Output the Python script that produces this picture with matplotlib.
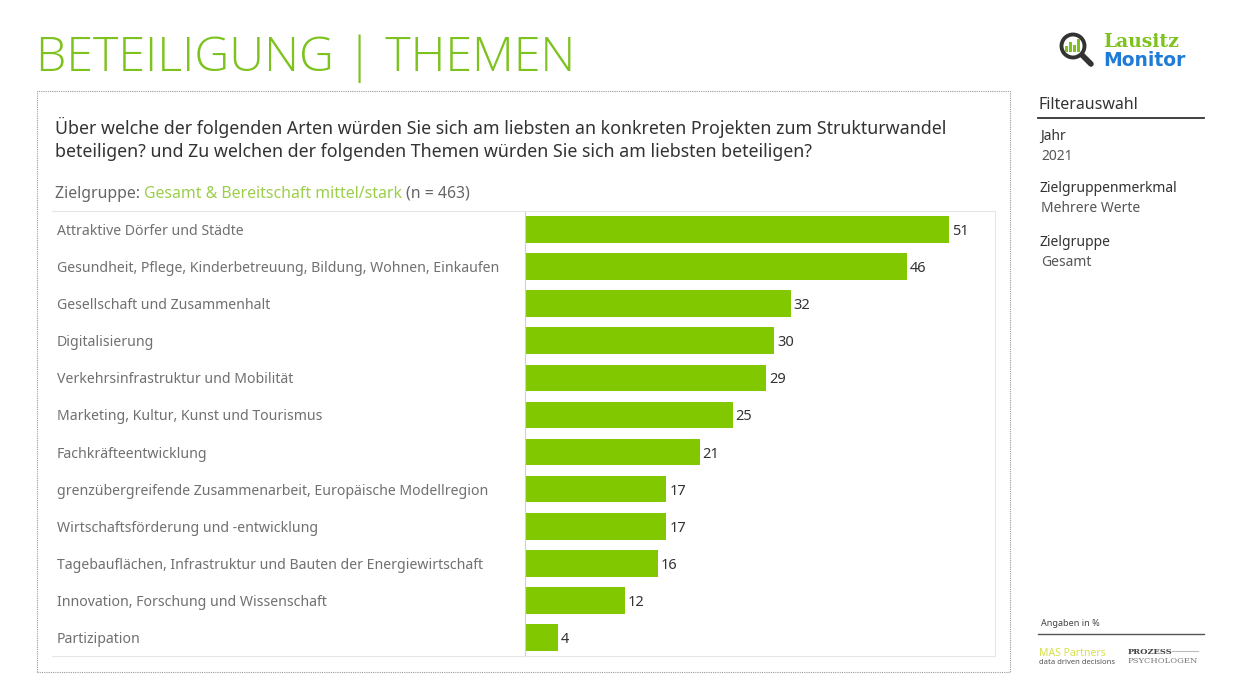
import matplotlib
matplotlib.use("Agg")
import matplotlib.pyplot as plt
from matplotlib.patches import Rectangle, Ellipse
from matplotlib.lines import Line2D

categories = [
    "Attraktive Dörfer und Städte",
    "Gesundheit, Pflege, Kinderbetreuung, Bildung, Wohnen, Einkaufen",
    "Gesellschaft und Zusammenhalt",
    "Digitalisierung",
    "Verkehrsinfrastruktur und Mobilität",
    "Marketing, Kultur, Kunst und Tourismus",
    "Fachkräfteentwicklung",
    "grenzübergreifende Zusammenarbeit, Europäische Modellregion",
    "Wirtschaftsförderung und -entwicklung",
    "Tagebauflächen, Infrastruktur und Bauten der Energiewirtschaft",
    "Innovation, Forschung und Wissenschaft",
    "Partizipation",
]
values = [51, 46, 32, 30, 29, 25, 21, 17, 17, 16, 12, 4]

GREEN = "#82C800"
TITLE_GREEN = "#7DC21E"
FONT = "Noto Sans"

W, H = 1243, 681
fig = plt.figure(figsize=(W / 100, H / 100), dpi=100)
fig.patch.set_facecolor("white")

def fx(px):
    return px / W

def fy(py):
    return 1 - py / H

# Title
fig.text(fx(36), fy(53), "BETEILIGUNG | THEMEN", color=TITLE_GREEN, fontsize=34.8,
         family="Open Sans", fontweight="light", va="center_baseline", ha="left")

# Dashed outer box
fig.add_artist(Rectangle((fx(37), fy(672)), fx(1010) - fx(37), fy(91) - fy(672),
                         transform=fig.transFigure, fill=False, edgecolor="#9a9a9a",
                         linestyle=(0, (1, 1)), linewidth=0.8))

# Question text
fig.text(fx(55), fy(125), "Über welche der folgenden Arten würden Sie sich am liebsten an konkreten Projekten zum Strukturwandel",
         fontsize=12.8, color="#333333", family=FONT, va="center_baseline")
fig.text(fx(55), fy(150), "beteiligen? und Zu welchen der folgenden Themen würden Sie sich am liebsten beteiligen?",
         fontsize=12.8, color="#333333", family=FONT, va="center_baseline")

# Zielgruppe line
t1 = fig.text(fx(55), fy(192), "Zielgruppe: ", fontsize=11.4, color="#666666", family=FONT, va="center_baseline")
fig.canvas.draw()
r = fig.canvas.get_renderer()
bb = t1.get_window_extent(r)
t2 = fig.text(bb.x1 / W, fy(192), "Gesamt & Bereitschaft mittel/stark", fontsize=11.4, color="#9BCF4A",
              family=FONT, va="center_baseline")
bb2 = t2.get_window_extent(r)
fig.text(bb2.x1 / W + 0.003, fy(192), "(n = 463)", fontsize=11.4, color="#666666", family=FONT,
         va="center_baseline")

# Axes
ax_left, ax_right, ax_top, ax_bot = 525, 995, 211, 656
ax = fig.add_axes([fx(ax_left), fy(ax_bot), fx(ax_right) - fx(ax_left), fy(ax_top) - fy(ax_bot)])
y = list(range(len(categories)))
ax.barh(y, values, height=0.72, color=GREEN)
ax.set_ylim(len(categories) - 0.5, -0.5)
ax.set_xlim(0, 56.55)
ax.set_xticks([])
ax.set_yticks([])
for s in ["top", "right", "bottom"]:
    ax.spines[s].set_color("#e6e6e6")
    ax.spines[s].set_linewidth(0.8)
ax.spines["left"].set_color("#d0d0d0")
ax.spines["left"].set_linewidth(0.8)
for yi, v in zip(y, values):
    ax.text(v + 0.35, yi, str(v), va="center_baseline", ha="left", fontsize=10.5, color="#333333",
            family=FONT)
    ax.text(-56.55 * (525 - 57) / 470, yi, categories[yi], va="center_baseline", ha="left",
            fontsize=10.15, color="#707070", family=FONT, clip_on=False)

# horizontal lines extending into label area
fig.add_artist(Line2D([fx(52), fx(ax_left)], [fy(ax_top), fy(ax_top)], color="#e6e6e6", lw=0.8))
fig.add_artist(Line2D([fx(52), fx(ax_left)], [fy(ax_bot), fy(ax_bot)], color="#e6e6e6", lw=0.8))

# Right panel
fig.text(fx(1039), fy(103), "Filterauswahl", fontsize=11.5, color="#333333", family=FONT,
         va="center_baseline")
fig.add_artist(Line2D([fx(1038), fx(1204)], [fy(118), fy(118)], color="#333333", lw=1.3))
items = [("Jahr", "2021", 134, 154), ("Zielgruppenmerkmal", "Mehrere Werte", 186, 206),
         ("Zielgruppe", "Gesamt", 241, 261)]
for lab, val, y1, y2 in items:
    fig.text(fx(1040), fy(y1), lab, fontsize=10, color="#333333", family=FONT, va="center_baseline",
             fontweight="medium")
    fig.text(fx(1041), fy(y2), val, fontsize=10, color="#555555", family=FONT, va="center_baseline")

fig.text(fx(1041), fy(623), "Angaben in %", fontsize=6.5, color="#444444", family=FONT,
         va="center_baseline")
fig.add_artist(Line2D([fx(1038), fx(1204)], [fy(634), fy(634)], color="#555555", lw=1.0))
fig.text(fx(1039), fy(652), "MAS Partners", fontsize=7.5, color="#D7E04A", family=FONT,
         va="center_baseline")
fig.text(fx(1039), fy(661), "data driven decisions", fontsize=5.5, color="#555555", family=FONT,
         va="center_baseline")
fig.text(fx(1128), fy(651), "PROZESS", fontsize=6, color="#444444", family="DejaVu Serif",
         fontweight="bold", va="center_baseline")
fig.add_artist(Line2D([fx(1172), fx(1198)], [fy(651), fy(651)], color="#bbbbbb", lw=0.8))
fig.text(fx(1128), fy(660), "PSYCHOLOGEN", fontsize=6, color="#777777", family="DejaVu Serif",
         va="center_baseline")

# Lausitz Monitor logo
lx, ly, lr = 1073, 46, 11.5
fig.add_artist(Ellipse((fx(lx), fy(ly)), 2 * lr / W, 2 * lr / H, transform=fig.transFigure, fill=False,
                       edgecolor="#333333", lw=2.8))
fig.add_artist(Line2D([fx(lx + 9), fx(lx + 18)], [fy(ly + 9), fy(ly + 18)], color="#333333", lw=4,
                      solid_capstyle="round"))
for bx, bh in [(1065, 6), (1069, 10), (1073, 7), (1077, 13)]:
    fig.add_artist(Rectangle((fx(bx), fy(ly + 6)), 3 / W, bh / H, transform=fig.transFigure,
                             facecolor="#7DC21E", edgecolor="none"))
fig.text(fx(1103), fy(40), "Lausitz", fontsize=13.5, color="#7DC21E", family="DejaVu Serif",
         fontweight="bold", va="center_baseline")
fig.text(fx(1103), fy(58), "Monitor", fontsize=13.5, color="#1E7BD6", family="DejaVu Sans",
         fontweight="bold", va="center_baseline")

fig.savefig("out.png", dpi=100, facecolor="white")
